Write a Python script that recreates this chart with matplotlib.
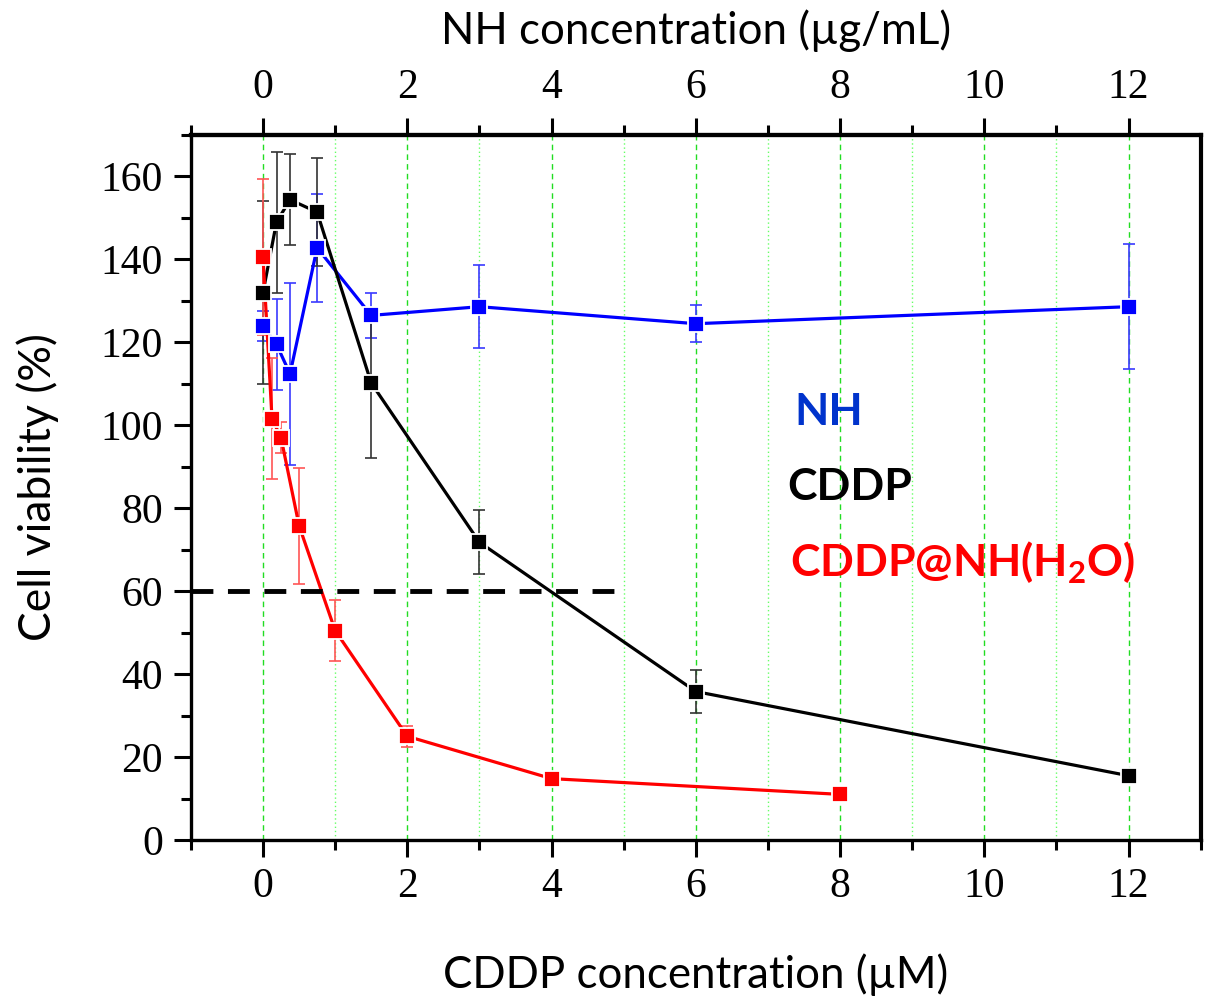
import numpy as np
import matplotlib
matplotlib.use("Agg")
import matplotlib.pyplot as plt
from matplotlib.ticker import MultipleLocator

plt.rcParams['mathtext.fontset'] = 'custom'
plt.rcParams['mathtext.rm'] = 'Lato'
plt.rcParams['mathtext.bf'] = 'Lato:bold'

# CDDP (black)
cddp_x = [0, 0.1875, 0.375, 0.75, 1.5, 3, 6, 12]
cddp_y = [132, 149, 154.4, 151.4, 110.2, 71.8, 35.8, 15.5]
cddp_err = [22, 17, 11, 13, 18, 7.7, 5.2, 1.2]

# NH (blue)
nh_x = [0, 0.1875, 0.375, 0.75, 1.5, 3, 6, 12]
nh_y = [124, 119.5, 112.4, 142.8, 126.5, 128.6, 124.5, 128.6]
nh_err = [3.6, 11, 22, 13, 5.4, 10, 4.4, 15]

# CDDP@NH(H2O) (red)
mix_x = [0, 0.125, 0.25, 0.5, 1, 2, 4, 8]
mix_y = [140.6, 101.6, 97, 75.8, 50.5, 25, 14.8, 11]
mix_err = [18.8, 14.6, 3.8, 14, 7.3, 2.5, 0.8, 0.8]

threshold = 60
threshold_end = 4.9

major_x = list(range(0, 13, 2))
minor_x = list(range(-1, 14, 2))

tick_family = 'Liberation Serif'
tick_size = 30
sans = ['Lato', 'DejaVu Sans']

fig = plt.figure(figsize=(12.08, 10), dpi=100)
ax = fig.add_axes([0.158, 0.16, 0.836, 0.705])

# vertical grid
for v in major_x:
    ax.axvline(v, color='#22dd22', lw=1, ls=(0, (4, 3)), zorder=0)
for v in minor_x[1:-1]:
    ax.axvline(v, color='#66ff66', lw=1, ls=(0, (1, 2)), zorder=0)

series = [
    (nh_x, nh_y, nh_err, '#0000ff', '#3a3aff'),
    (cddp_x, cddp_y, cddp_err, 'black', '#333333'),
    (mix_x, mix_y, mix_err, '#ff0000', '#ff5555'),
]
for x, y, e, c, ec in series:
    ax.errorbar(x, y, yerr=e, fmt='none', ecolor=ec, elinewidth=1.2,
                capsize=4.5, capthick=1.2, zorder=2)
    ax.plot(x, y, color=c, lw=2.3, zorder=3)
    ax.plot(x, y, 's', color=c, ms=11, mec='white', mew=1.3, zorder=4)

ax.plot([-1, threshold_end], [threshold, threshold], color='black', lw=3.5,
        dashes=(4.5, 3), zorder=5)

ax.set_xlim(-1, 13)
ax.set_ylim(0, 170)
ax.set_xticks(major_x)
ax.set_xticks(minor_x, minor=True)
ax.yaxis.set_major_locator(MultipleLocator(20))
ax.yaxis.set_minor_locator(MultipleLocator(10))
ax.tick_params(which='major', direction='out', length=12, width=2.2, pad=8)
ax.tick_params(which='minor', direction='out', length=7, width=2.2)
ax.tick_params(right=False, which='both')
for s in ax.spines.values():
    s.set_linewidth(2.4)
ax.spines['top'].set_linewidth(3)
ax.spines['right'].set_linewidth(3)
for lab in ax.get_xticklabels() + ax.get_yticklabels():
    lab.set_fontfamily(tick_family)
    lab.set_fontsize(tick_size)

top = ax.secondary_xaxis('top')
top.set_xticks(major_x)
top.set_xticks(minor_x[:-1], minor=True)
top.tick_params(which='major', direction='out', length=12, width=2.2, pad=8)
top.tick_params(which='minor', direction='out', length=7, width=2.2)
top.spines['top'].set_linewidth(3)
for lab in top.get_xticklabels():
    lab.set_fontfamily(tick_family)
    lab.set_fontsize(tick_size)
top.set_xlabel('NH concentration (µg/mL)', family=sans, fontsize=31.5,
               labelpad=18)

ax.set_xlabel('CDDP concentration (µM)', family=sans, fontsize=31.5, labelpad=34)
ax.set_ylabel('Cell viability (%)', family=sans, fontsize=32, labelpad=30)

ax.text(7.37, 100, 'NH', color='#0033cc', fontsize=32, fontweight='bold',
        family=sans, va='baseline')
ax.text(7.27, 82, 'CDDP', color='black', fontsize=32, fontweight='bold',
        family=sans, va='baseline')
ax.text(7.3, 63.4, r'CDDP@NH(H$_{\mathbf{2}}$O)', color='#ff0000', fontsize=32,
        fontweight='bold', family=sans, va='baseline')

fig.savefig('out.png', dpi=100)
